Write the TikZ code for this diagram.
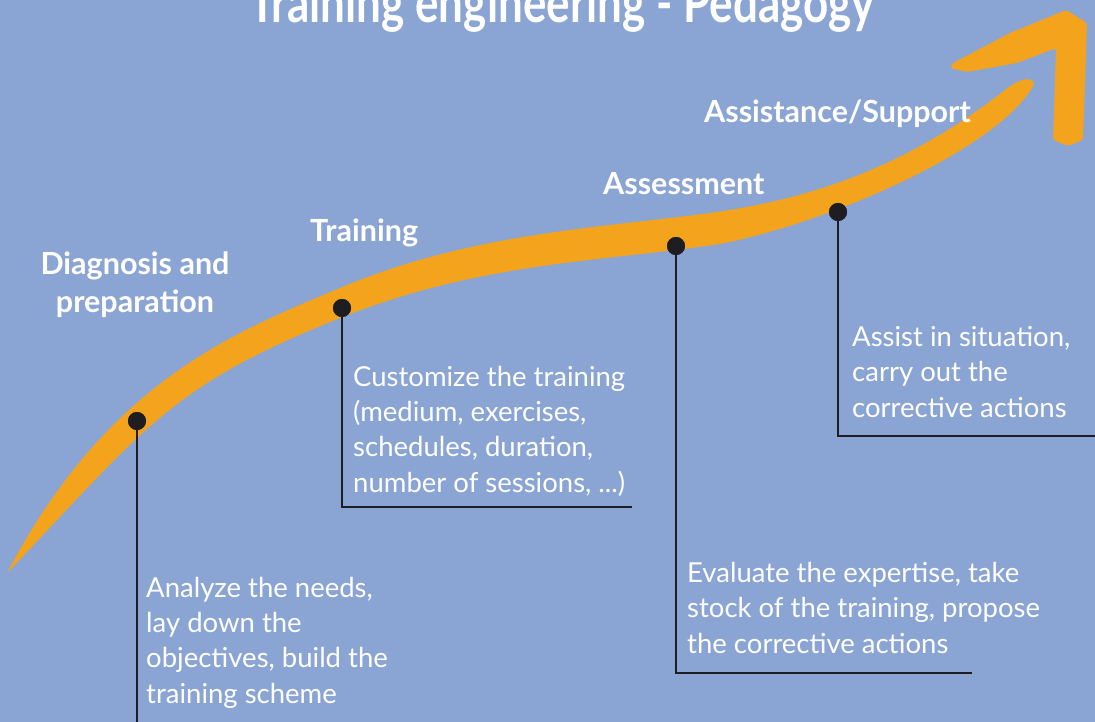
\documentclass[tikz,border=0pt]{standalone}
\usepackage{fontspec}
\setmainfont{Lato}
\definecolor{bgblue}{HTML}{8AA4D4}
\definecolor{bandorange}{HTML}{F3A41C}
\definecolor{pindark}{HTML}{1E1E22}
\begin{document}
\begin{tikzpicture}[
    x=1pt, y=-1pt,
    step-dot/.style = {circle, fill=pindark, inner sep=0pt, minimum size=18pt},
    step-head/.style = {text=white, font=\fontsize{30.5}{38}\selectfont\bfseries, inner sep=0pt, align=center},
    step-text/.style = {text=white, font=\fontsize{27.5}{35.3}\selectfont, inner sep=0pt, align=left, anchor=base west},
    lead-line/.style = {draw=pindark, line width=2.8pt}
  ]
  \fill[bgblue] (0,0) rectangle (1095,722);
  \useasboundingbox (0,0) rectangle (1095,722);

  % title, cut at the top edge
  \node[text=white, font=\fontsize{55}{60}\selectfont\bfseries, xscale=0.8, anchor=base, inner sep=0pt] (title) at (562,23) {Training engineering - Pedagogy};

  % the rising band
  \fill[bandorange] (7,573) .. controls (107,383) and (230,334) .. (340,288)
    .. controls (470,233) and (600,228) .. (710,213)
    .. controls (810,199) and (905,168) .. (1005,90)
    .. controls (1020,78) and (1032,76) .. (1034,84)
    .. controls (1004,144) and (840,220) .. (720,244)
    .. controls (600,262) and (480,262) .. (340,318)
    .. controls (170,386) and (147,426) .. (7,573) -- cycle;

  % arrow head
  \fill[bandorange, rounded corners=3pt] (1066,10) -- (1087,23) -- (1083,140) -- (1068,146) -- (1053,140) -- (1056,48)
    -- (1017,63) -- (967,72) -- (950,68) -- (953,63) -- (1010,33) -- cycle;

  % stages
  \node[step-head, anchor=base] (h1) at (135,312) {Diagnosis and\\preparation};
  \node[step-head, anchor=base west] (h2) at (310,242) {Training};
  \node[step-head, anchor=base west] (h3) at (603,195) {Assessment};
  \node[step-head, anchor=base east] (h4) at (971,123) {Assistance/Support};

  \coordinate (c1) at (137,722);
  \coordinate (c2) at (342,507);
  \coordinate (e2) at (632,507);
  \coordinate (c3) at (676,673);
  \coordinate (e3) at (972,673);
  \coordinate (c4) at (838,436);
  \coordinate (e4) at (1095,436);

  \node[step-dot] (1) at (137,421) {};
  \node[step-dot] (2) at (342,308) {};
  \node[step-dot] (3) at (676,246) {};
  \node[step-dot] (4) at (838,212) {};

  \draw[lead-line] (1.center) -- (c1);
  \draw[lead-line] (2.center) -- (c2) -- (e2);
  \draw[lead-line] (3.center) -- (c3) -- (e3);
  \draw[lead-line] (4.center) -- (c4) -- (e4);
  \foreach \d in {1,2,3,4} \node[step-dot] at (\d) {};

  \node[step-text] (t1) at (146,703) {Analyze the needs,\\lay down the\\objectives, build the\\training scheme};
  \node[step-text] (t2) at (353,492) {Customize the training\\(medium, exercises,\\schedules, duration,\\number of sessions, ...)};
  \node[step-text] (t3) at (687,653) {Evaluate the expertise, take\\stock of the training, propose\\the corrective actions};
  \node[step-text] (t4) at (852,417) {Assist in situation,\\carry out the\\corrective actions};
\end{tikzpicture}
\end{document}
